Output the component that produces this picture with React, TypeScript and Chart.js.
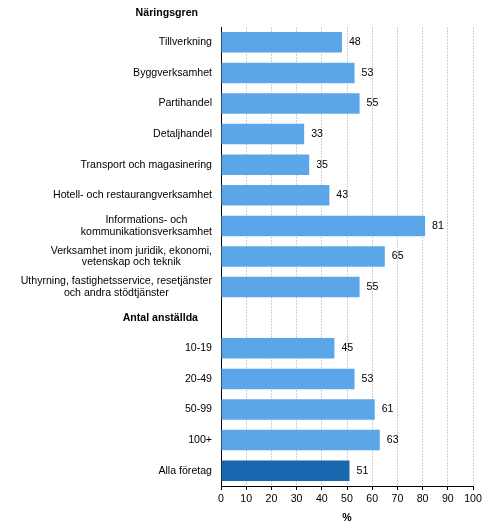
import { useEffect, useRef } from "react";
import {
  Chart,
  BarController,
  BarElement,
  CategoryScale,
  LinearScale,
  Plugin,
} from "chart.js";

Chart.register(BarController, BarElement, CategoryScale, LinearScale);

const FONT = '"Liberation Sans", Arial, sans-serif';
const FONT_SIZE = 10.6;

const sectionTitle = "Näringsgren";

// each row label split into its printed lines
const categories: string[][] = [
  ["Tillverkning"],
  ["Byggverksamhet"],
  ["Partihandel"],
  ["Detaljhandel"],
  ["Transport och magasinering"],
  ["Hotell- och restaurangverksamhet"],
  ["Informations- och", "kommunikationsverksamhet"],
  ["Verksamhet inom juridik, ekonomi,", "vetenskap och teknik"],
  ["Uthyrning, fastighetsservice, resetjänster", "och andra stödtjänster"],
  ["Antal anställda"],
  ["10-19"],
  ["20-49"],
  ["50-99"],
  ["100+"],
  ["Alla företag"],
];

// rows that are group headers (no bar, bold text)
const headerRows = [9];

const values: (number | null)[] = [
  48, 53, 55, 33, 35, 43, 81, 65, 55, null, 45, 53, 61, 63, 51,
];

const totalRow = 14;

const xMin = 0;
const xMax = 100;
const xStep = 10;
const xTitle = "%";

const LIGHT_BLUE = "#5aa6e9";
const DARK_BLUE = "#1a67b0";

const rowLabels: Plugin<"bar"> = {
  id: "rowLabels",
  afterDraw(chart) {
    const { ctx, chartArea } = chart;
    const yScale = chart.scales.y;
    const left = chartArea.left;
    ctx.save();
    ctx.fillStyle = "#000";
    ctx.textBaseline = "middle";
    ctx.textAlign = "center";
    categories.forEach((lines, i) => {
      const bold = headerRows.includes(i);
      ctx.font = `${bold ? "bold " : ""}${FONT_SIZE}px ${FONT}`;
      const right = left - (bold ? 23 : 9);
      const maxW = Math.max(...lines.map((l) => ctx.measureText(l).width));
      const cx = right - maxW / 2;
      const cy = yScale.getPixelForValue(i);
      const lh = 11.6;
      lines.forEach((l, k) => {
        ctx.fillText(l, cx, cy + (k - (lines.length - 1) / 2) * lh);
      });
    });
    // group title above the plot
    ctx.font = `bold ${FONT_SIZE}px ${FONT}`;
    ctx.textAlign = "right";
    ctx.fillText(sectionTitle, left - 23, chartArea.top - 14);
    ctx.restore();
  },
};

const valueLabels: Plugin<"bar"> = {
  id: "valueLabels",
  afterDatasetsDraw(chart) {
    const { ctx } = chart;
    const meta = chart.getDatasetMeta(0);
    ctx.save();
    ctx.fillStyle = "#000";
    ctx.font = `${FONT_SIZE}px ${FONT}`;
    ctx.textAlign = "left";
    ctx.textBaseline = "middle";
    meta.data.forEach((bar, i) => {
      const v = values[i];
      if (v == null) return;
      ctx.fillText(String(v), bar.x + 7, bar.y);
    });
    ctx.restore();
  },
};

export default function App() {
  const canvasRef = useRef<HTMLCanvasElement | null>(null);

  useEffect(() => {
    document.body.style.margin = "0";
    if (!canvasRef.current) return;

    const chart = new Chart(canvasRef.current, {
      type: "bar",
      data: {
        labels: categories.map((l) => l.join(" ")),
        datasets: [
          {
            data: values,
            backgroundColor: values.map((_, i) =>
              i === totalRow ? DARK_BLUE : LIGHT_BLUE,
            ),
            borderWidth: 0,
            barPercentage: 0.67,
            categoryPercentage: 1,
          },
        ],
      },
      options: {
        indexAxis: "y",
        responsive: true,
        maintainAspectRatio: false,
        animation: false,
        layout: {
          padding: { top: 27, right: 18, bottom: 0, left: 0 },
        },
        plugins: {
          legend: { display: false },
          tooltip: { enabled: false },
        },
        scales: {
          y: {
            type: "category",
            grid: { display: false },
            border: { display: true, color: "#000", width: 1 },
            ticks: { display: false },
            afterFit: (scale) => {
              scale.width = 221;
            },
          },
          x: {
            type: "linear",
            min: xMin,
            max: xMax,
            ticks: {
              stepSize: xStep,
              color: "#000",
              padding: 3,
              font: { family: FONT, size: FONT_SIZE },
            },
            grid: {
              color: "#cfcfcf",
              tickColor: "#000",
              tickLength: 4,
              tickBorderDash: [],
            },
            border: { display: true, color: "#000", width: 1, dash: [2, 1] },
            title: {
              display: true,
              text: xTitle,
              color: "#000",
              font: { family: FONT, size: FONT_SIZE, weight: "bold" },
              padding: { top: 0, bottom: 5 },
            },
            afterFit: (scale) => {
              scale.height = 43;
            },
          },
        },
      },
      plugins: [rowLabels, valueLabels],
    });

    return () => {
      chart.destroy();
    };
  }, []);

  return (
    <div style={{ width: "491px", height: "529px", position: "relative" }}>
      <canvas ref={canvasRef} />
    </div>
  );
}
